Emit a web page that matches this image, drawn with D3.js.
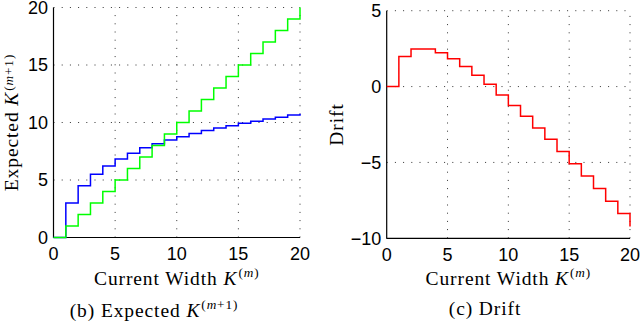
<!DOCTYPE html>
<html><head><meta charset="utf-8">
<script src="https://cdn.jsdelivr.net/npm/d3@7"></script>
<style>html,body{margin:0;padding:0;background:#fff;}svg{display:block;}</style>
</head><body>
<svg id="c" width="640" height="321"></svg>
<script>
// ---- data ----
const widthK = [0,1,2,3,4,5,6,7,8,9,10,11,12,13,14,15,16,17,18,19,20];
const expectedBlue = [0,3.0,4.5,5.5,6.22,6.82,7.32,7.8,8.15,8.47,8.77,9.05,9.3,9.52,9.72,9.93,10.1,10.3,10.46,10.66,10.77];
const expectedGreen = [0,1,2,3,4,5,6,7,8,9,10,11,12,13,14,15,16,17,18,19,20];
const drift = [0,1.98,2.47,2.47,2.23,1.83,1.33,0.75,0.15,-0.55,-1.24,-1.96,-2.73,-3.48,-4.28,-5.08,-5.9,-6.72,-7.55,-8.36,-9.22];
const xTicks = [0,5,10,15,20];
const yTicksLeft = [0,5,10,15,20];
const yTicksRight = [-10,-5,0,5];

const svg = d3.select('#c');
const tickFont = '"Liberation Sans", Arial, sans-serif';
const serif = '"Liberation Serif", "Times New Roman", serif';
const labelSize = 19.5;
const supSize = labelSize * 0.68;
const lineW = 1.5;
const ls = 0.9;

function fmt(v){ return v < 0 ? '\u2212' + Math.abs(v) : String(v); }

function kSup(t, inner, up){
  t.append('tspan').attr('font-style', 'italic').text('K');
  t.append('tspan').attr('font-size', supSize).attr('dy', -up).attr('dx', 1).text('(');
  t.append('tspan').attr('font-size', supSize).attr('font-style', 'italic').text('m');
  if (inner) t.append('tspan').attr('font-size', supSize).text(inner);
  t.append('tspan').attr('font-size', supSize).text(')');
}

function panel(opts){
  const g = svg.append('g');
  const x = d3.scaleLinear().domain([0,20]).range(opts.xr);
  const y = d3.scaleLinear().domain(opts.yd).range(opts.yr);
  // grid
  const gridX = opts.xTicks.filter(v => v !== 0);
  const gridY = opts.yTicks.filter(v => v !== opts.yd[0]);
  g.selectAll('.gx').data(gridX).enter().append('line')
    .attr('x1', d => x(d)).attr('x2', d => x(d))
    .attr('y1', opts.yr[0]).attr('y2', opts.yr[1])
    .attr('stroke', '#333').attr('stroke-width', 1).attr('stroke-dasharray', '1 7.2');
  g.selectAll('.gy').data(gridY).enter().append('line')
    .attr('x1', opts.xr[0]).attr('x2', opts.xr[1])
    .attr('y1', d => y(d)).attr('y2', d => y(d))
    .attr('stroke', '#333').attr('stroke-width', 1).attr('stroke-dasharray', '1 7.2');
  // axes lines
  g.append('line').attr('x1', opts.xr[0]).attr('x2', opts.xr[0])
    .attr('y1', opts.yr[0]+0.5).attr('y2', opts.yr[1]).attr('stroke', '#000').attr('stroke-width', 1.2);
  g.append('line').attr('x1', opts.xr[0]).attr('x2', opts.xr[1])
    .attr('y1', opts.yr[0]).attr('y2', opts.yr[0]).attr('stroke', '#000').attr('stroke-width', 1.2);
  // series
  const line = d3.line().x((d,i) => x(widthK[i])).y(d => y(d)).curve(d3.curveStepAfter);
  opts.series.forEach(s => {
    g.append('path').attr('d', line(s.values)).attr('fill', 'none')
      .attr('stroke', s.color).attr('stroke-width', lineW);
  });
  // tick labels
  g.selectAll('.xt').data(opts.xTicks).enter().append('text')
    .attr('x', d => x(d)).attr('y', opts.yr[0] + 22.5)
    .attr('text-anchor', 'middle').attr('font-family', tickFont).attr('font-size', 18)
    .text(fmt);
  g.selectAll('.yt').data(opts.yTicks).enter().append('text')
    .attr('x', opts.xr[0] - 5.5).attr('y', d => y(d)).attr('dy', '0.36em')
    .attr('text-anchor', 'end').attr('font-family', tickFont).attr('font-size', 18)
    .text(fmt);
  // x label
  const xl = g.append('text').attr('x', (opts.xr[0]+opts.xr[1])/2).attr('y', 285)
    .attr('text-anchor', 'middle').attr('font-family', serif).attr('font-size', labelSize)
    .attr('letter-spacing', ls);
  xl.append('tspan').text('Current Width ');
  kSup(xl, null, 8);
  // y label
  const yl = g.append('text')
    .attr('transform', `translate(${opts.ylx},${(opts.yr[0]+opts.yr[1])/2}) rotate(-90)`)
    .attr('text-anchor', 'middle').attr('font-family', serif).attr('font-size', labelSize)
    .attr('letter-spacing', ls);
  opts.ylabel(yl);
  // caption
  const cap = g.append('text').attr('x', opts.capx).attr('y', opts.capy)
    .attr('text-anchor', 'middle').attr('font-family', serif).attr('font-size', labelSize)
    .attr('letter-spacing', ls);
  opts.caption(cap);
}

panel({
  xr: [53.5, 300], yd: [0,20], yr: [237.5, 7.5],
  xTicks: xTicks, yTicks: yTicksLeft,
  series: [{values: expectedBlue, color: '#0000ff'}, {values: expectedGreen, color: '#00ff00'}],
  ylx: 18,
  ylabel: t => {
    t.append('tspan').text('Expected ');
    kSup(t, '+1', 5.5);
  },
  capx: 154, capy: 317,
  caption: t => {
    t.append('tspan').text('(b) Expected ');
    kSup(t, '+1', 8);
  }
});

panel({
  xr: [386.7, 630], yd: [-10,5], yr: [238.3, 10.7],
  xTicks: xTicks, yTicks: yTicksRight,
  series: [{values: drift, color: '#ff0000'}],
  ylx: 343,
  ylabel: t => { t.text('Drift'); },
  capx: 485, capy: 315,
  caption: t => { t.text('(c) Drift'); }
});
</script>
</body></html>
